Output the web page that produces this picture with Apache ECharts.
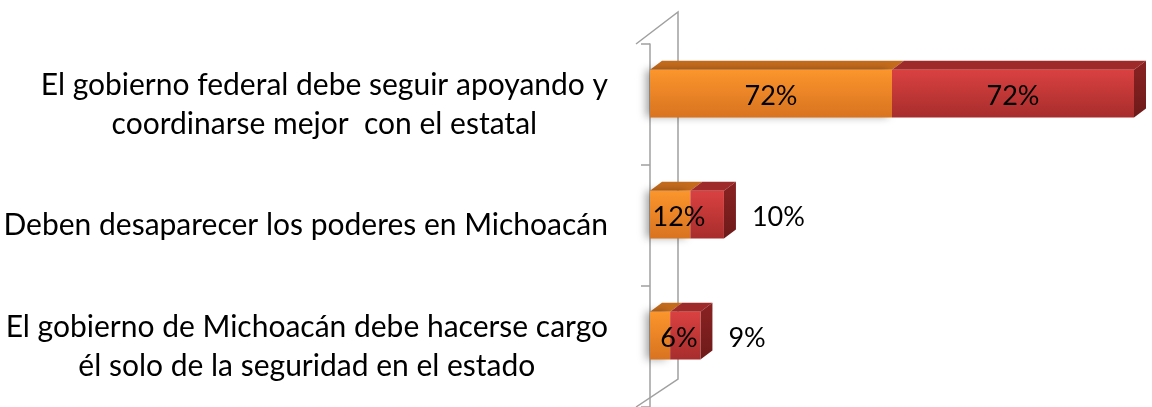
<!DOCTYPE html>
<html>
<head>
<meta charset="utf-8">
<script src="https://cdn.jsdelivr.net/npm/echarts@6/dist/echarts.min.js"></script>
<style>html,body{margin:0;padding:0;background:#fff;}#c{width:1152px;height:407px;}</style>
</head>
<body>
<div id="c"></div>
<script>
var categories = [
  'El gobierno federal debe seguir apoyando y\ncoordinarse mejor  con el estatal',
  'Deben desaparecer los poderes en Michoacán',
  'El gobierno de Michoacán debe hacerse cargo\nél solo de la seguridad en el estado'
];
var orangeValues = [72, 12, 6];
var redValues = [72, 10, 9];
var axisMax = 144;

var FONT = 'Lato';
var DX = 12, DY = 9;

var orangeData = orangeValues.map(function (v, i) { return [0, v, i, v]; });
var redData = redValues.map(function (v, i) { return [orangeValues[i], orangeValues[i] + v, i, v]; });

function geom(api) {
  var s = api.value(0), e = api.value(1), ci = api.value(2);
  var p0 = api.coord([s, ci]);
  var p1 = api.coord([e, ci]);
  var band = api.size([0, 1])[1];
  var h = band * 0.394;
  var cy = p0[1] - band * 0.09;
  return { x0: p0[0], x1: p1[0], y0: cy - h / 2, y1: cy + h / 2, cy: cy, h: h };
}

function makeBar(cfg) {
  return function (params, api) {
    var g = geom(api);
    var x0 = g.x0, x1 = g.x1, y0 = g.y0, y1 = g.y1;
    var children = [];
    children.push({
      type: 'polygon',
      shape: { points: [[x0, y0], [x0 + DX, y0 - DY], [x1 + DX, y0 - DY], [x1, y0]] },
      style: { fill: cfg.top }
    });
    if (cfg.side) {
      children.push({
        type: 'polygon',
        shape: { points: [[x1, y0], [x1 + DX, y0 - DY], [x1 + DX, y1 - DY], [x1, y1]] },
        style: { fill: new echarts.graphic.LinearGradient(0, 0, 0, 1, [
          { offset: 0, color: cfg.side[0] }, { offset: 1, color: cfg.side[1] }]) }
      });
    }
    children.push({
      type: 'rect',
      shape: { x: x0, y: y0, width: x1 - x0, height: g.h },
      style: {
        fill: new echarts.graphic.LinearGradient(0, 0, 0, 1, [
          { offset: 0, color: cfg.front[0] }, { offset: 1, color: cfg.front[1] }]),
        shadowBlur: cfg.shadow ? 8 : 0,
        shadowOffsetX: cfg.shadow ? -4 : 0,
        shadowColor: 'rgba(0,0,0,0.35)'
      }
    });
    return { type: 'group', children: children };
  };
}

function makeLabel(mode) {
  return function (params, api) {
    var g = geom(api);
    var val = api.value(3);
    var w = g.x1 - g.x0;
    var lx, align;
    if (mode === 'inside') {
      lx = Math.max((g.x0 + g.x1) / 2, g.x0 + 29);
      align = 'center';
    } else if (w > 70) {
      lx = (g.x0 + g.x1) / 2; align = 'center';
    } else {
      lx = g.x1 + DX + 16; align = 'left';
    }
    return {
      type: 'text',
      style: {
        text: val + '%', x: lx, y: g.cy + 3, align: align, verticalAlign: 'middle',
        fontSize: 27, fontFamily: FONT, fill: '#000'
      }
    };
  };
}

var chart = echarts.init(document.getElementById('c'));
chart.setOption({
  animation: false,
  grid: { left: 650, right: 18, top: 44, bottom: -3 },
  xAxis: { type: 'value', min: 0, max: axisMax, show: false },
  yAxis: {
    type: 'category', data: categories, inverse: true, offset: 14,
    axisLine: { show: true, lineStyle: { color: '#a0a0a0', width: 1.5 } },
    axisTick: { show: true, length: 9, lineStyle: { color: '#a0a0a0', width: 1.5 } },
    axisLabel: {
      margin: 28, align: 'right',
      formatter: function (v) { return v.split('\n').map(function (l) { return '{c|' + l + '}'; }).join('\n'); },
      rich: { c: { align: 'center', fontSize: 30, fontFamily: FONT, lineHeight: 39, color: '#000' } }
    },
    splitLine: { show: false }
  },
  graphic: [{
    type: 'polyline',
    shape: { points: [[636, 44], [678, 12], [678, 379], [636, 407]] },
    style: { stroke: '#a0a0a0', lineWidth: 1.5, fill: null },
    z: 0
  }],
  series: [
    {
      type: 'custom', name: 'A', data: orangeData, encode: { x: [0, 1], y: 2 },
      renderItem: makeBar({ top: '#c46b1c', front: ['#fb952c', '#d97320'], shadow: true }),
      z: 2
    },
    {
      type: 'custom', name: 'B', data: redData, encode: { x: [0, 1], y: 2 },
      renderItem: makeBar({ top: '#9e2a2a', front: ['#da4141', '#a72d2c'], side: ['#8a2222', '#6e1a1a'] }),
      z: 3
    },
    {
      type: 'custom', name: 'A labels', data: orangeData, encode: { x: [0, 1], y: 2 },
      renderItem: makeLabel('inside'), silent: true, z: 5
    },
    {
      type: 'custom', name: 'B labels', data: redData, encode: { x: [0, 1], y: 2 },
      renderItem: makeLabel('auto'), silent: true, z: 5
    }
  ]
});
</script>
</body>
</html>
